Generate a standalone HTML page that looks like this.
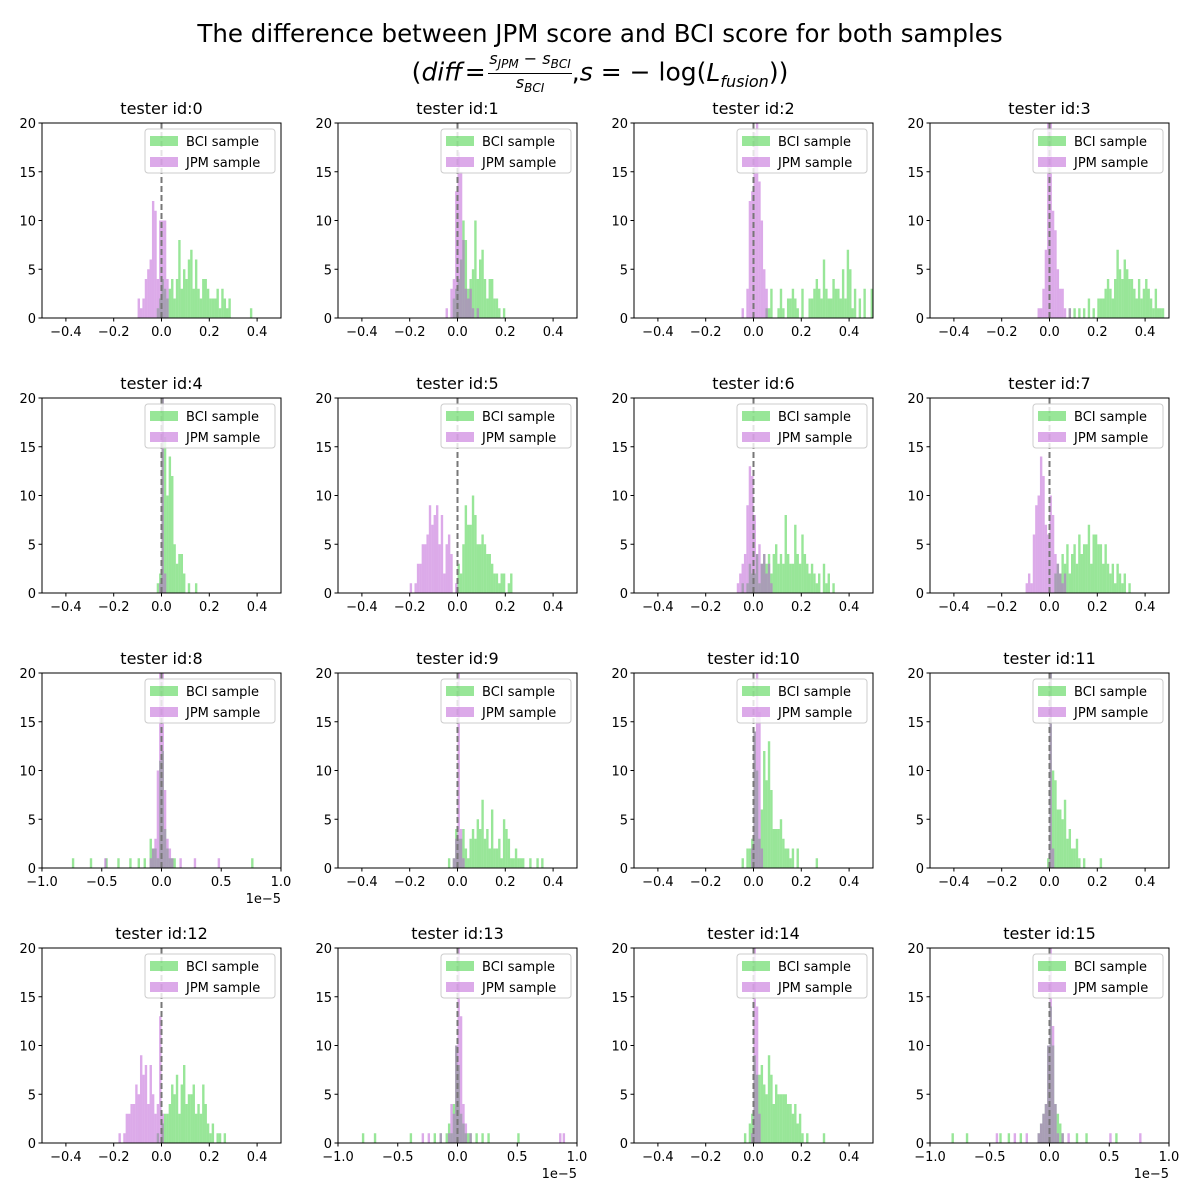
<!DOCTYPE html>
<html><head><meta charset="utf-8">
<style>
body{margin:0;background:#fff;}
#wrap{position:relative;width:1200px;height:1200px;font-family:"DejaVu Sans","Liberation Sans",sans-serif;}
.t1{position:absolute;left:0;width:1200px;top:19px;text-align:center;font-size:24.5px;color:#000;}
.t2{position:absolute;left:0;width:1200px;top:50px;text-align:center;font-size:25px;color:#000;white-space:nowrap;}
.frac{display:inline-block;vertical-align:middle;text-align:center;font-size:16px;font-style:italic;line-height:17px;}
.frac .num{display:block;border-bottom:1px solid #000;padding:0 1px;}
.frac .den{display:block;}
sub{font-size:16px;}
</style></head><body>
<div id="wrap">
<div class="t1">The difference between JPM score and BCI score for both samples</div>
<div class="t2">(<i>diff</i>&#8202;=&#8202;<span class="frac"><span class="num">s<sub style="font-size:12px">JPM</sub> − s<sub style="font-size:12px">BCI</sub></span><span class="den">s<sub style="font-size:12px">BCI</sub></span></span>,<i>s</i> = − log(<i>L<sub>fusion</sub></i>))</div>
<svg id="chart" width="1200" height="1200" style="position:absolute;left:0;top:0"></svg>
</div>
<script>
// x-range per panel: 0.5 => [-0.5,0.5]; 1 => [-1,1] (×1e-5)
const RANGE = [0.5,0.5,0.5,0.5, 0.5,0.5,0.5,0.5, 1,0.5,0.5,0.5, 0.5,1,0.5,1];
const BIN_W = [0.01,0.01,0.01,0.01, 0.01,0.01,0.01,0.01, 0.02,0.01,0.01,0.01, 0.01,0.02,0.01,0.02];
const BCI_START = [-0.02,-0.02,0.01,0.08, -0.02,0,-0.05,0.02, -0.1,-0.04,-0.05,-0.01, -0.02,-0.1,-0.04,-0.1];
const BCI_COUNTS = [
 [1,2,4,3,2,3,4,2,4,8,3,5,4,6,7,3,6,3,2,4,4,3,2,2,2,3,1,3,2,1,2,0,0,0,0,0,0,0,0,1],
 [2,3,4,6,10,8,3,4,5,10,4,6,7,4,2,4,4,2,2,1,0,1],
 [0,0,0,0,1,1,3,0,0,1,3,1,0,2,2,3,2,1,0,3,0,0,2,2,3,4,3,2,6,3,2,2,4,3,3,2,5,2,7,5,1,3,0,2,0,3,0,0,3],
 [1,0,1,0,1,0,1,0,2,0,1,0,2,2,2,3,4,3,2,4,7,5,4,6,5,4,4,3,2,4,2,3,4,3,2,1,3,1,1,1],
 [1,2,20,16,10,14,12,5,3,4,4,2,0,1,0,0,1],
 [3,2,5,9,7,7,10,8,5,5,6,5,4,4,3,2,2,1,2,2,0,1,2],
 [1,0,1,3,2,2,4,1,3,4,3,4,2,4,5,3,4,3,8,4,3,3,7,4,3,6,4,3,2,3,2,1,2,0,3,1,2,0,1],
 [2,3,2,4,3,5,2,4,5,3,6,4,5,5,7,3,6,6,5,5,3,5,3,2,3,1,3,2,1,2,0,1],
 [3,2,2,1,11,12,4,2,1,1,1],
 [1,0,1,4,3,3,4,2,1,3,4,3,5,4,7,3,4,2,6,2,2,3,1,5,4,3,1,1,2,1,1,1,0,0,1,0,0,1,0,1],
 [1,0,2,2,3,14,10,3,6,12,9,13,8,4,4,4,5,3,2,2,1,2,0,2,0,0,0,0,0,0,0,1],
 [1,20,10,9,6,6,5,7,3,4,2,2,3,1,0,1,0,0,0,0,0,0,1],
 [1,0,2,3,3,4,6,5,7,3,6,8,4,5,5,6,3,4,3,6,4,2,1,2,0,1,1,0,1],
 [1,2,1,4,10,8,3,2,1,1,1],
 [1,0,2,3,9,7,7,8,6,5,9,7,4,6,5,5,5,5,4,4,3,4,2,3,1,0,1,0,0,0,0,0,0,1],
 [1,2,3,4,10,14,10,4,3,2,1]
];
const BCI_OUTLIERS = [[],[],[],[],[],[],[],[], [-0.75,-0.6,-0.47,-0.37,-0.27,-0.2,-0.15,0.75],[],[],[], [],[-0.8,-0.7,-0.4,-0.2,-0.15,0.15,0.2,0.25,0.5],[],[-0.82,-0.7,-0.42,-0.35,-0.25,0.22,0.3,0.55]];
const JPM_START = [-0.1,-0.05,-0.05,-0.05, -0.01,-0.2,-0.07,-0.1, -0.1,-0.02,-0.01,-0.01, -0.18,-0.08,-0.01,-0.1];
const JPM_COUNTS = [
 [2,1,2,4,5,6,12,11,4,10,10,10,4],
 [1,0,3,4,13,17,15,8,3,2,3,1,0,1],
 [1,0,3,12,13,19,25,14,10,5,3],
 [1,1,3,7,20,20,11,9,5,3,3,1,0,1],
 [1,20,2],
 [1,0,1,3,3,5,5,6,9,7,8,9,5,8,2,5,6,4,0,1],
 [1,2,3,4,9,13,12,8,4,5,3,4,2,3,1],
 [1,2,1,6,9,10,14,12,7,6,10,8,4,3,2,1,2],
 [1,2,3,10,20,20,8,3,2,1],
 [1,3,20,4,1],
 [2,14,20,16,2],
 [0,20,2],
 [1,0,1,3,3,4,4,6,5,9,7,8,4,8,5,3,4,13,3],
 [1,4,3,10,20,13,4,2],
 [1,20,14,3],
 [1,2,3,4,10,20,12,4,1]
];
const JPM_OUTLIERS = [[],[],[],[],[],[],[],[], [-0.48,0.15,0.27,0.47],[],[],[], [],[-0.3,-0.25,-0.15,0.1,0.85,0.88],[],[-0.45,-0.3,-0.2,0.1,0.15,0.5,0.75]];
const Y_TICKS = [0,5,10,15,20];
const X_TICKS_A = [-0.4,-0.2,0.0,0.2,0.4];
const X_TICKS_B = [-1.0,-0.5,0.0,0.5,1.0];

const NS = 'http://www.w3.org/2000/svg';
const svg = document.getElementById('chart');
const COLX = [42,338,634,930], ROWY = [123,398,673,948], AW = 239, AH = 195;
function mk(tag, attrs, parent){const e=document.createElementNS(NS,tag);for(const k in attrs)e.setAttribute(k,attrs[k]);(parent||svg).appendChild(e);return e;}
function fmt(v){return (v<0?'−':'')+Math.abs(v).toFixed(1);}

for(let p=0;p<16;p++){
  const x0=COLX[p%4], y0=ROWY[Math.floor(p/4)], R=RANGE[p], W=BIN_W[p];
  const xs=v=>x0+(v+R)/(2*R)*AW;
  const ys=v=>y0+AH-(Math.min(v,20.5))/20*AH;
  const g=mk('g',{});
  
  
  const clip=mk('clipPath',{id:'c'+p},g);
  mk('rect',{x:x0,y:y0,width:AW,height:AH},clip);
  const plot=mk('g',{'clip-path':'url(#c'+p+')'},g);
  function drawSeries(start,counts,outl,color,name){
    const sg=mk('g',{},plot);
    
    
    counts.forEach((c,i)=>{ if(!c) return;
      const l=start+i*W;
      const r=mk('rect',{x:xs(l),y:ys(c),width:xs(l+W)-xs(l),height:ys(0)-ys(c),fill:color,'fill-opacity':0.5},sg);
      
      
    });
    outl.forEach(v=>{
      const r=mk('rect',{x:xs(v),y:ys(1),width:xs(v+W)-xs(v),height:ys(0)-ys(1),fill:color,'fill-opacity':0.5},sg);
      
      
    });
  }
  drawSeries(BCI_START[p],BCI_COUNTS[p],BCI_OUTLIERS[p],'#32cd32','bci-histogram');
  drawSeries(JPM_START[p],JPM_COUNTS[p],JPM_OUTLIERS[p],'#ba55d3','jpm-histogram');
  const zl=mk('line',{x1:xs(0),x2:xs(0),y1:y0,y2:y0+AH,stroke:'#777','stroke-width':2,'stroke-dasharray':'6,3'},plot);
  
  
  const fr=mk('rect',{x:x0,y:y0,width:AW,height:AH,fill:'none',stroke:'#000','stroke-width':1},g);
  
  
  Y_TICKS.forEach(t=>{
    mk('line',{x1:x0-3.5,x2:x0,y1:ys(t),y2:ys(t),stroke:'#000'},g);
    const tx=mk('text',{x:x0-6,y:ys(t)+5,'text-anchor':'end','font-size':13},g);
    tx.textContent=t;
    
    
  });
  (R===1?X_TICKS_B:X_TICKS_A).forEach(t=>{
    mk('line',{x1:xs(t),x2:xs(t),y1:y0+AH,y2:y0+AH+3.5,stroke:'#000'},g);
    const tx=mk('text',{x:xs(t),y:y0+AH+18,'text-anchor':'middle','font-size':13},g);
    tx.textContent=fmt(t);
    
    
  });
  if(R===1){
    const off=mk('text',{x:x0+AW,y:y0+AH+35,'text-anchor':'end','font-size':13},g);
    off.textContent='1e−5';
    
    
  }
  const ti=mk('text',{x:x0+AW/2,y:y0-9,'text-anchor':'middle','font-size':16},g);
  ti.textContent='tester id:'+p;
  
  
  const lg=mk('g',{},g);
  
  
  mk('rect',{x:x0+AW-136,y:y0+6,width:130,height:44,rx:3,fill:'#fff','fill-opacity':0.8,stroke:'#ccc'},lg);
  [['BCI sample','#32cd32'],['JPM sample','#ba55d3']].forEach((e,i)=>{
    const eg=mk('g',{},lg);
    
    
    mk('rect',{x:x0+AW-131,y:y0+13+i*21,width:28,height:10,fill:e[1],'fill-opacity':0.5},eg);
    const t=mk('text',{x:x0+AW-95,y:y0+23+i*21,'font-size':13},eg);
    t.textContent=e[0];
  });
}
</script>
</body></html>
